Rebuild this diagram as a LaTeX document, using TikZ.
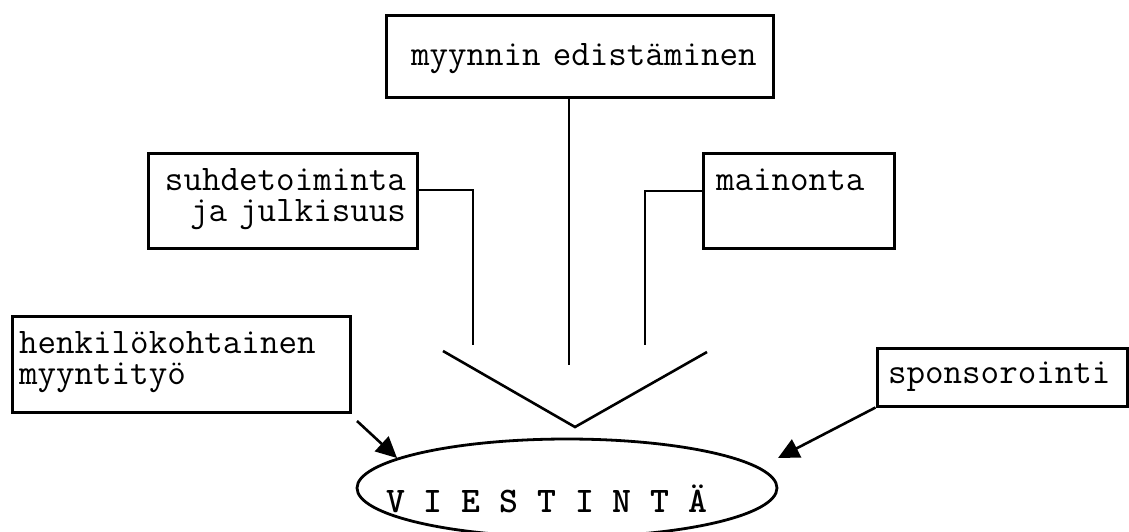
\documentclass[tikz,border=0pt]{standalone}
\usetikzlibrary{arrows.meta,shapes.geometric}

\begin{document}
\begin{tikzpicture}[x=1pt,y=-1pt,
  >={Triangle[length=21pt,width=20pt]},
  box/.style={draw,line width=3pt,inner sep=0pt,
    font=\ttfamily\fontsize{36}{31}\selectfont},
  line/.style={line width=2.6pt}]
\useasboundingbox (0,0) rectangle (1129,531);
\node[box,align=left,text width=337pt,minimum width=387pt,text height=50pt,text depth=32pt] (v0) at (579.5,56) {myynnin~edistäminen};
\node[box,align=right,text width=247pt,minimum width=269pt,text height=37pt,text depth=58pt] (v1) at (282.5,200.5) {suhdetoiminta\\ja julkisuus};
\node[box,align=left,text width=165pt,minimum width=191pt,text height=37pt,text depth=58pt] (v2) at (798.5,200.5) {mainonta};
\node[box,align=left,text width=324pt,minimum width=338pt,text height=37pt,text depth=59pt] (v3) at (181,364) {henkilökohtainen\\myyntityö};
\node[box,align=left,text width=228pt,minimum width=250pt,text height=35pt,text depth=23pt] (v4) at (1002,377) {sponsorointi};
\node[draw,ellipse,line width=2.8pt,inner sep=0pt,minimum width=420pt,minimum height=98pt] (v5) at (567,488) {};
\node[anchor=base west,inner sep=0pt,font=\ttfamily\bfseries\fontsize{36}{36}\selectfont] (v6) at (386,512) {V I E S T I N T Ä};
% loose ends of the feeder lines
\coordinate (c0) at (357,421);
\coordinate (c1) at (778,458);
\coordinate (c2) at (569,365);
\coordinate (c3) at (473,345);
\coordinate (c4) at (645,345);
\draw [line] (v0.south -| c2) -- (c2);
\draw [line] ([yshift=10.5pt]v1.east) -| (c3);
\draw [line] ([yshift=9.5pt]v2.west) -| (c4);
\draw [line] (443,351) -- (575,427) -- (707,352);
\draw [line,->] (c0) -- (v5.170.75);
\draw [line,->] (v4.south west) -- (c1);
\end{tikzpicture}
\end{document}
